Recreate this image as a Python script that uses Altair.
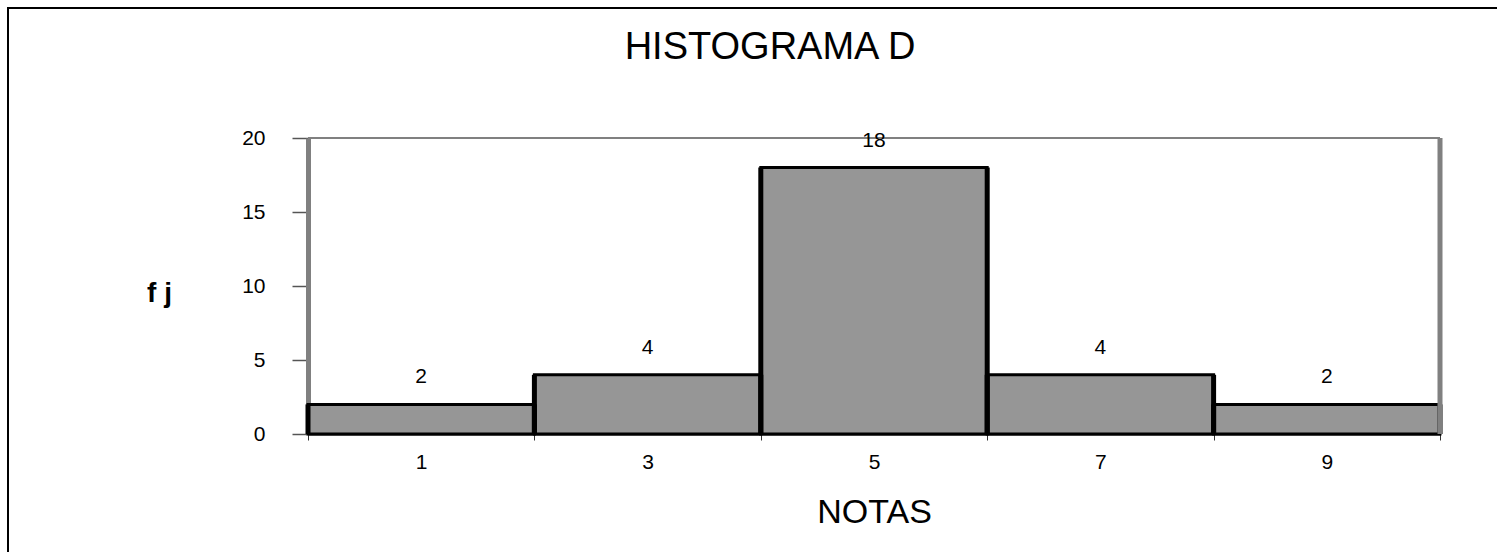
import altair as alt
import pandas as pd

# Frequency table: class intervals of width 2 and their absolute frequencies
lower = [0, 2, 4, 6, 8]
upper = [2, 4, 6, 8, 10]
notas = [1, 3, 5, 7, 9]
fj = [2, 4, 18, 4, 2]

df = pd.DataFrame({"lower": lower, "upper": upper, "nota": notas, "fj": fj})

FONT = "Liberation Sans"
GREY_FRAME = "#808080"

x_scale = alt.Scale(domain=[0, 10], nice=False, zero=False)
y_scale = alt.Scale(domain=[0, 20], nice=False)

x_axis = alt.Axis(
    values=list(range(0, 11)),
    format="d",
    labelExpr="datum.value % 2 == 1 ? datum.label : ''",
    tickOpacity={"condition": {"test": "datum.value % 2 == 1", "value": 0}, "value": 1},
    tickSize=6,
    tickColor="#333333",
    tickWidth=1,
    domainColor="black",
    domainWidth=2,
    labelFont=FONT,
    labelFontSize=21,
    labelColor="black",
    labelPadding=11,
    labelAngle=0,
    grid=False,
    title="NOTAS",
    titleFont=FONT,
    titleFontSize=34,
    titleFontWeight="normal",
    titleColor="black",
    titlePadding=23,
)

y_axis = alt.Axis(
    values=[0, 5, 10, 15, 20],
    tickSize=16,
    tickColor="#555555",
    tickWidth=1.5,
    domainColor=GREY_FRAME,
    domainWidth=5,
    labelFont=FONT,
    labelFontSize=21,
    labelColor="black",
    labelPadding=27,
    grid=False,
    title="f j",
    titleFont=FONT,
    titleFontSize=28,
    titleFontWeight="bold",
    titleColor="black",
    titleAngle=0,
    titleAlign="center",
    titleBaseline="middle",
    titleX=-149,
    titleY=155,
)

base = alt.Chart(df)

bars = base.mark_rect(fill="#969696", stroke="black", strokeWidth=3).encode(
    x=alt.X("lower:Q", scale=x_scale, axis=x_axis),
    x2="upper:Q",
    y=alt.Y("fj:Q", scale=y_scale, axis=y_axis),
    y2=alt.datum(0),
)

# heavier vertical edges of each column
left_edges = base.mark_rule(color="black", strokeWidth=5).encode(
    x="lower:Q", y="fj:Q", y2=alt.datum(0)
)
right_edges = base.mark_rule(color="black", strokeWidth=5).encode(
    x="upper:Q", y="fj:Q", y2=alt.datum(0)
)

# top and right-hand sides of the plot frame
one_row = alt.Data(values=[{"v": 0}])
frame_right = alt.Chart(one_row).mark_rule(color=GREY_FRAME, strokeWidth=5).encode(
    x=alt.datum(10), y=alt.datum(0), y2=alt.datum(20)
)
frame_top = alt.Chart(one_row).mark_rule(color=GREY_FRAME, strokeWidth=2).encode(
    x=alt.datum(0), x2=alt.datum(10), y=alt.datum(20)
)

labels = base.mark_text(
    font=FONT, fontSize=21, color="black", baseline="alphabetic", dy=-21
).encode(x="nota:Q", y="fj:Q", text="fj:Q")

# outer chart border
border = alt.Chart(one_row).mark_rect(
    fillOpacity=0, stroke="black", strokeWidth=2
).encode(
    x=alt.value(-300), x2=alt.value(1400), y=alt.value(-130), y2=alt.value(600)
)

chart = (
    alt.layer(border, frame_top, bars, left_edges, right_edges, frame_right, labels)
    .properties(
        width=1132,
        height=296,
        autosize=alt.AutoSizeParams(type="none"),
        padding={"left": 308, "top": 138, "right": 57, "bottom": 118},
        title=alt.TitleParams(
            "HISTOGRAMA D",
            font=FONT,
            fontSize=38,
            fontWeight="normal",
            color="black",
            anchor="middle",
            baseline="alphabetic",
            dx=-104,
            dy=90,
            offset=0,
        ),
    )
    .configure_view(stroke=None)
    .configure(background="white")
)

chart.save("out.html", embed_options={"renderer": "svg", "actions": False})
